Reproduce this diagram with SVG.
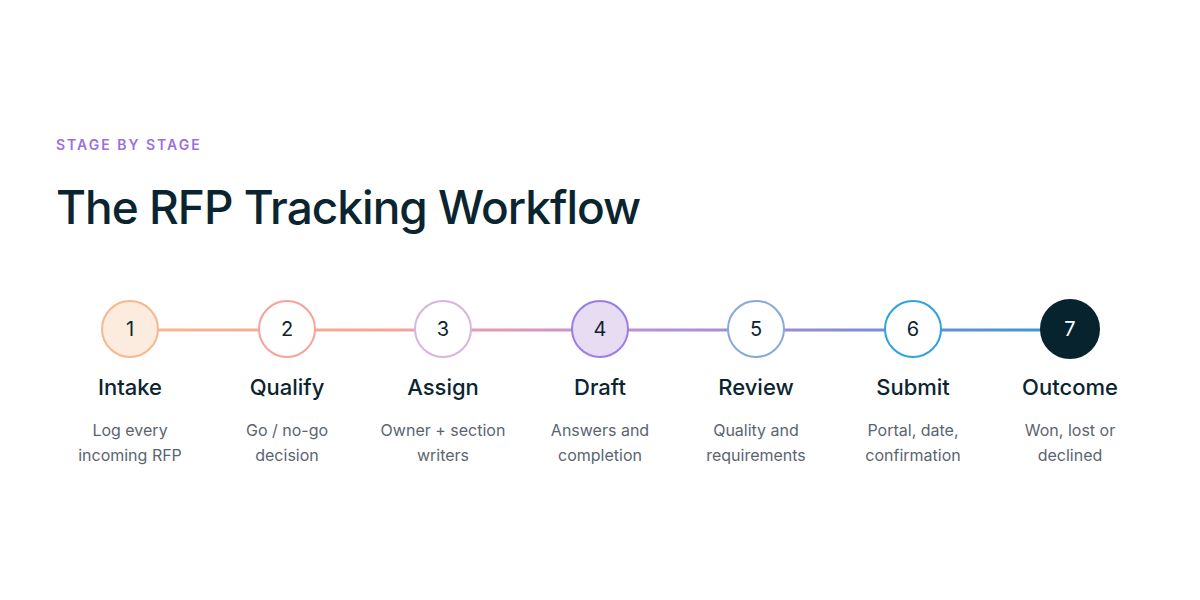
<svg xmlns="http://www.w3.org/2000/svg" width="1200" height="600" viewBox="0 0 1200 600">
<defs>
<linearGradient id="g" x1="130" y1="0" x2="1070" y2="0" gradientUnits="userSpaceOnUse">
<stop offset="0" stop-color="#f5b98d"/><stop offset="0.3" stop-color="#f4a29a"/><stop offset="0.5" stop-color="#c492d0"/><stop offset="0.75" stop-color="#8a8ad8"/><stop offset="1" stop-color="#2f9ad6"/>
</linearGradient>
<style>
text{font-family:Inter,"Noto Sans",sans-serif;text-anchor:middle}
.n{font-size:20px;fill:#0b2530}
.t{font-size:22px;font-weight:500;fill:#0b2530}
.d{font-size:16px;fill:#5a6570}
circle{stroke-width:2}
</style>
</defs>
<rect width="1200" height="600" fill="#fff"/>
<text x="56" y="150" style="text-anchor:start;font-size:14px;font-weight:600;letter-spacing:2px;fill:#9b6fe0">STAGE BY STAGE</text>
<text x="56" y="224" style="text-anchor:start;font-size:46px;font-weight:500;letter-spacing:-1px;fill:#0b2530">The RFP Tracking Workflow</text>
<g id="connectors"><line x1="130" y1="330" x2="1070" y2="330" stroke="url(#g)" stroke-width="3"/></g>
<g id="s1"><circle cx="130" cy="329" r="28" fill="#fcebdf" stroke="#f5b98d"/><text class="n" x="130" y="336">1</text><text class="t" x="130" y="395">Intake</text><text class="d" x="130" y="436">Log every</text><text class="d" x="130" y="461">incoming RFP</text></g>
<g id="s2"><circle cx="287" cy="329" r="28" fill="#fff" stroke="#f7a399"/><text class="n" x="287" y="336">2</text><text class="t" x="287" y="395">Qualify</text><text class="d" x="287" y="436">Go / no-go</text><text class="d" x="287" y="461">decision</text></g>
<g id="s3"><circle cx="443" cy="329" r="28" fill="#fff" stroke="#d8b4e4"/><text class="n" x="443" y="336">3</text><text class="t" x="443" y="395">Assign</text><text class="d" x="443" y="436">Owner + section</text><text class="d" x="443" y="461">writers</text></g>
<g id="s4"><circle cx="600" cy="329" r="28" fill="#e7dcf2" stroke="#9b7ee4"/><text class="n" x="600" y="336">4</text><text class="t" x="600" y="395">Draft</text><text class="d" x="600" y="436">Answers and</text><text class="d" x="600" y="461">completion</text></g>
<g id="s5"><circle cx="756" cy="329" r="28" fill="#fff" stroke="#87a9dc"/><text class="n" x="756" y="336">5</text><text class="t" x="756" y="395">Review</text><text class="d" x="756" y="436">Quality and</text><text class="d" x="756" y="461">requirements</text></g>
<g id="s6"><circle cx="913" cy="329" r="28" fill="#fff" stroke="#2fa3dc"/><text class="n" x="913" y="336">6</text><text class="t" x="913" y="395">Submit</text><text class="d" x="913" y="436">Portal, date,</text><text class="d" x="913" y="461">confirmation</text></g>
<g id="s7"><circle cx="1070" cy="329" r="29" fill="#06232e" stroke="#06232e"/><text class="n" x="1070" y="336" style="fill:#fff">7</text><text class="t" x="1070" y="395">Outcome</text><text class="d" x="1070" y="436">Won, lost or</text><text class="d" x="1070" y="461">declined</text></g>
</svg>
